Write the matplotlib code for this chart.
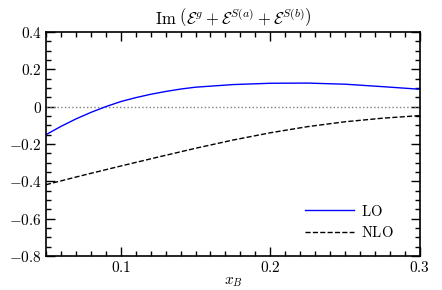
import numpy as np
import matplotlib
matplotlib.use("Agg")
import matplotlib.pyplot as plt
from matplotlib.ticker import MultipleLocator, FuncFormatter

plt.rcParams['mathtext.fontset'] = 'cm'
plt.rcParams['font.family'] = 'serif'
plt.rcParams['font.serif'] = ['DejaVu Serif']

x_lo = [0.05, 0.06, 0.07, 0.08, 0.09, 0.10, 0.11, 0.12, 0.13, 0.14, 0.15, 0.175, 0.20, 0.225, 0.25, 0.275, 0.30]
y_lo = [-0.150, -0.106, -0.066, -0.031, 0.000, 0.027, 0.048, 0.066, 0.081, 0.094, 0.104, 0.118, 0.125, 0.126, 0.120, 0.107, 0.093]

x_nlo = [0.05, 0.075, 0.10, 0.125, 0.15, 0.175, 0.20, 0.225, 0.25, 0.275, 0.30]
y_nlo = [-0.418, -0.367, -0.318, -0.270, -0.223, -0.179, -0.140, -0.107, -0.081, -0.062, -0.048]

fig = plt.figure(figsize=(4.42, 2.90), dpi=100)
ax = fig.add_axes([0.104, 0.117, 0.846, 0.773])

ax.axhline(0, color='gray', ls=':', lw=1.0)
ax.plot(x_lo, y_lo, color='blue', lw=1.0, label=r'$\mathrm{LO}$')
ax.plot(x_nlo, y_nlo, color='black', ls='--', lw=1.0, label=r'$\mathrm{NLO}$')

ax.set_xlim(0.05, 0.3)
ax.set_ylim(-0.8, 0.4)
ax.xaxis.set_major_locator(MultipleLocator(0.1))
ax.xaxis.set_minor_locator(MultipleLocator(0.01))
ax.yaxis.set_major_locator(MultipleLocator(0.2))
ax.yaxis.set_minor_locator(MultipleLocator(0.05))
fmt = FuncFormatter(lambda v, p: r'$%s$' % ('0' if abs(v) < 1e-9 else '%.1f' % v))
ax.xaxis.set_major_formatter(fmt)
ax.yaxis.set_major_formatter(fmt)
ax.tick_params(which='both', direction='in', top=True, right=True, labelsize=11, width=1.0)
ax.tick_params(which='major', length=6.5, pad=3)
ax.tick_params(which='minor', length=3.5)
for s in ax.spines.values():
    s.set_linewidth(1.2)

ax.set_xlabel(r'$x_B$', fontsize=11, labelpad=0)
ax.set_title(r'$\mathrm{Im}\ \left(\mathcal{E}^g+\mathcal{E}^{S(a)}+\mathcal{E}^{S(b)}\right)$', fontsize=12, pad=5)

ax.legend(loc='lower right', frameon=False, fontsize=10.5, handlelength=3.3,
          handletextpad=0.5, labelspacing=0.45, borderaxespad=0,
          bbox_to_anchor=(0.945, 0.045))

fig.savefig('out.png', dpi=100)
